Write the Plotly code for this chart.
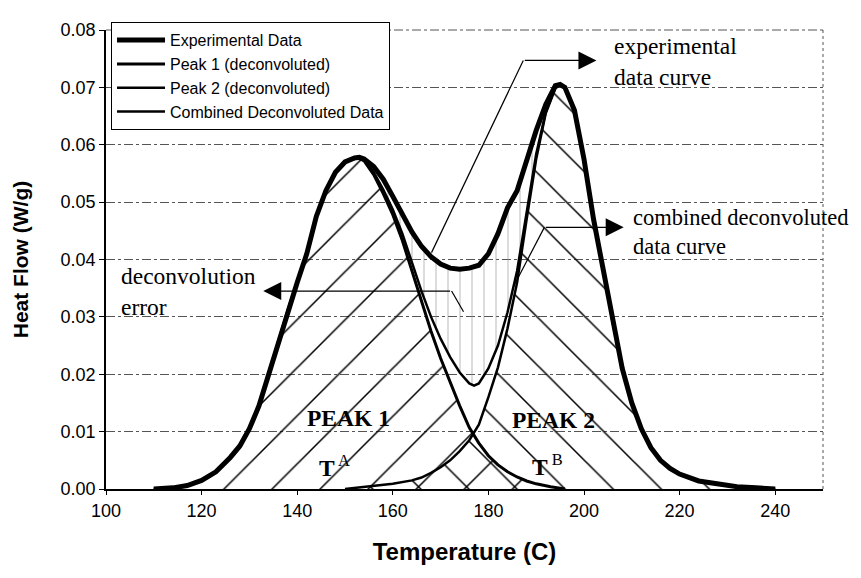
import plotly.graph_objects as go

# ---------------- data ----------------
temp_exp = [110, 114, 117, 120, 123, 126, 128, 130, 132, 134, 136, 138, 140, 142, 144, 146, 148, 150, 152, 153,
            154, 156, 158, 160, 162, 164, 166, 168, 170, 172, 174, 176, 178, 180, 182, 184, 186, 188, 190, 192,
            194, 195, 196, 198, 200, 202, 204, 206, 208, 210, 212, 214, 216, 218, 220, 224, 228, 232, 236, 240]
heat_exp = [0, 0.0002, 0.0006, 0.0015, 0.003, 0.0055, 0.0075, 0.0105, 0.0145, 0.02,
            0.0255, 0.031, 0.036, 0.041, 0.0475, 0.052, 0.0552, 0.057, 0.0577, 0.0578,
            0.0575, 0.0562, 0.054, 0.051, 0.0478, 0.0448, 0.0423, 0.0405, 0.0392, 0.0385,
            0.0383, 0.0385, 0.039, 0.041, 0.0445, 0.049, 0.052, 0.0575, 0.0625, 0.067,
            0.0703, 0.0705, 0.07, 0.066, 0.0575, 0.047, 0.0385, 0.029, 0.021, 0.015,
            0.0105, 0.0072, 0.005, 0.0036, 0.0026, 0.0014, 0.0008, 0.0004, 0.0002, 0]

temp_p1 = [110, 114, 117, 120, 123, 126, 128, 130, 132, 134, 136, 138, 140, 142, 144, 146, 148, 150, 152, 153,
           154, 156, 158, 160, 162, 164, 166, 168, 170, 172, 174, 176, 178, 180, 182, 184, 186, 188, 190, 193, 196]
heat_p1 = [0, 0.0002, 0.0006, 0.0015, 0.003, 0.0055, 0.0075, 0.0105, 0.0145, 0.02,
           0.0255, 0.031, 0.036, 0.041, 0.0475, 0.052, 0.0552, 0.057, 0.0576, 0.0576,
           0.0572, 0.0548, 0.0515, 0.0478, 0.0433, 0.038, 0.0325, 0.0275, 0.0228, 0.0185,
           0.0145, 0.0107, 0.008, 0.0058, 0.0042, 0.003, 0.0021, 0.0014, 0.0009, 0.0004, 0]

temp_p2 = [150, 155, 160, 164, 166, 168, 170, 172, 174, 176, 178, 180, 182, 184, 186, 188, 190, 192, 194, 195,
           196, 198, 200, 202, 204, 206, 208, 210, 212, 214, 216, 218, 220, 224, 228, 232, 236, 240]
heat_p2 = [0, 0.0004, 0.0009, 0.0015, 0.002, 0.0028, 0.0038, 0.005, 0.0066, 0.0085,
           0.0112, 0.016, 0.0212, 0.028, 0.036, 0.047, 0.0575, 0.0655, 0.0698, 0.0705,
           0.07, 0.066, 0.0575, 0.047, 0.0385, 0.029, 0.021, 0.015, 0.0105, 0.0072,
           0.005, 0.0036, 0.0026, 0.0014, 0.0008, 0.0004, 0.0002, 0]

temp_comb = [110, 114, 117, 120, 123, 126, 128, 130, 132, 134, 136, 138, 140, 142, 144, 146, 148, 150, 152, 154,
             156, 158, 160, 162, 164, 166, 168, 170, 172, 174, 176, 177, 178, 180, 182, 184, 186, 188, 190, 192,
             194, 195, 196, 198, 200, 202, 204, 206, 208, 210, 212, 214, 216, 218, 220, 224, 228, 232, 236, 240]
heat_comb = [0, 0.0002, 0.0006, 0.0015, 0.003, 0.0055, 0.0075, 0.0105, 0.0145, 0.02,
             0.0255, 0.031, 0.036, 0.041, 0.0475, 0.052, 0.0552, 0.057, 0.0577, 0.0574,
             0.0552, 0.0522, 0.0487, 0.0445, 0.0395, 0.0345, 0.03, 0.0262, 0.023, 0.0203,
             0.0184, 0.018, 0.0184, 0.021, 0.025, 0.0308, 0.038, 0.0484, 0.0584, 0.0657,
             0.07, 0.0705, 0.07, 0.066, 0.0575, 0.047, 0.0385, 0.029, 0.021, 0.015,
             0.0105, 0.0072, 0.005, 0.0036, 0.0026, 0.0014, 0.0008, 0.0004, 0.0002, 0]

x_ticks = [100, 120, 140, 160, 180, 200, 220, 240]
y_ticks = [0.00, 0.01, 0.02, 0.03, 0.04, 0.05, 0.06, 0.07, 0.08]
series_names = ["Experimental Data", "Peak 1 (deconvoluted)", "Peak 2 (deconvoluted)", "Combined Deconvoluted Data"]
error_window = (158, 192)

# ---------------- figure ----------------
SERIF = "Liberation Serif, Times New Roman, serif"
SANS = "Liberation Sans, Arial, sans-serif"
CLEAR = "rgba(0,0,0,0)"

fig = go.Figure()

# hatched area under peak 1
fig.add_trace(go.Scatter(x=temp_p1, y=heat_p1, mode="lines", line=dict(width=0, color=CLEAR),
                         fill="tozeroy", fillcolor=CLEAR,
                         fillpattern=dict(shape="/", fgcolor="black", fgopacity=1, bgcolor=CLEAR,
                                          size=34, solidity=0.045),
                         showlegend=False, hoverinfo="skip"))
# hatched area under peak 2
fig.add_trace(go.Scatter(x=temp_p2, y=heat_p2, mode="lines", line=dict(width=0, color=CLEAR),
                         fill="tozeroy", fillcolor=CLEAR,
                         fillpattern=dict(shape="\\", fgcolor="black", fgopacity=1, bgcolor=CLEAR,
                                          size=34, solidity=0.045),
                         showlegend=False, hoverinfo="skip"))

# deconvolution error region (between experimental and combined curves)
lo, hi = error_window
ex = [t for t in temp_exp if lo <= t <= hi]
ey = [h for t, h in zip(temp_exp, heat_exp) if lo <= t <= hi]
cx = [t for t in temp_comb if lo <= t <= hi][::-1]
cy = [h for t, h in zip(temp_comb, heat_comb) if lo <= t <= hi][::-1]
fig.add_trace(go.Scatter(x=ex + cx, y=ey + cy, mode="lines", line=dict(width=0, color=CLEAR),
                         fill="toself", fillcolor=CLEAR,
                         fillpattern=dict(shape="|", fgcolor="#8a8a8a", bgcolor=CLEAR, size=12, solidity=0.1),
                         showlegend=False, hoverinfo="skip"))

# curves
fig.add_trace(go.Scatter(x=temp_exp, y=heat_exp, mode="lines", name=series_names[0],
                         line=dict(color="black", width=5)))
fig.add_trace(go.Scatter(x=temp_p1, y=heat_p1, mode="lines", name=series_names[1],
                         line=dict(color="black", width=3)))
fig.add_trace(go.Scatter(x=temp_p2, y=heat_p2, mode="lines", name=series_names[2],
                         line=dict(color="black", width=2.5)))
fig.add_trace(go.Scatter(x=temp_comb, y=heat_comb, mode="lines", name=series_names[3],
                         line=dict(color="black", width=2.5)))

# leader lines + arrows
leaders = [
    # (curve point, bend, arrow tip)
    ((168.1, 0.0412), (187.3, 0.0747), (202.6, 0.0747)),
    ((185.2, 0.0352), (191.7, 0.0456), (208.3, 0.0456)),
    ((174.8, 0.0309), (172.3, 0.0345), (132.9, 0.0345)),
]
for p0, p1, p2 in leaders:
    fig.add_shape(type="line", x0=p0[0], y0=p0[1], x1=p1[0], y1=p1[1], xref="x", yref="y",
                  line=dict(color="black", width=1.2))
    fig.add_annotation(x=p2[0], y=p2[1], ax=p1[0], ay=p1[1], axref="x", ayref="y", xref="x", yref="y",
                       text="", showarrow=True, arrowhead=2, arrowsize=3, arrowwidth=1.2, arrowcolor="black")

labels = [
    (205.8, 0.0745, "experimental<br>data curve", "left", 23.5),
    (209.9, 0.0448, "combined deconvoluted<br>data curve", "left", 22.5),
    (102.7, 0.0345, "deconvolution<br>error", "left", 23.5),
    (150.7, 0.0123, "<b>PEAK 1</b>", "center", 23.5),
    (193.6, 0.0121, "<b>PEAK 2</b>", "center", 23.5),
    (147.7, 0.0040, "<b>T</b><sup> A</sup>", "center", 23.5),
    (192.4, 0.0042, "<b>T</b><sup> B</sup>", "center", 23.5),
]
for x, y, txt, anchor, fs in labels:
    fig.add_annotation(x=x, y=y, xref="x", yref="y", text=txt, showarrow=False, xanchor=anchor,
                       yanchor="middle", align="left", font=dict(family=SERIF, size=fs, color="black"))

# frame: dotted right edge, dash-dot top edge
fig.add_shape(type="line", xref="paper", yref="paper", x0=1, x1=1, y0=0, y1=1,
              line=dict(color="#555", width=1, dash="dot"))
fig.add_shape(type="line", xref="paper", yref="paper", x0=0, x1=1, y0=1, y1=1,
              line=dict(color="#555", width=1, dash="dashdot"))

# the page body adds an 8px offset, so the figure is 8px smaller and margins are shifted
fig.update_layout(
    width=853, height=570,
    margin=dict(l=97, r=38, t=13, b=89),
    plot_bgcolor="white", paper_bgcolor="white",
    font=dict(family=SANS, color="black"),
    showlegend=True,
    legend=dict(x=0.007, y=1.017, xanchor="left", yanchor="top", bgcolor="white",
                bordercolor="black", borderwidth=1, font=dict(family=SANS, size=16, color="black"),
                itemwidth=48, tracegroupgap=0),
    xaxis=dict(range=[100, 250], tickvals=x_ticks, ticks="outside", ticklen=4, tickcolor="black",
               showline=True, linecolor="black", linewidth=2, showgrid=False, zeroline=False,
               tickfont=dict(family=SANS, size=18, color="black"),
               title=dict(text="<b>Temperature (C)</b>", font=dict(family=SANS, size=24, color="black"),
                          standoff=24)),
    yaxis=dict(range=[0, 0.08], tickvals=y_ticks, tickformat=".2f", ticks="outside", ticklen=5,
               tickcolor="black", showline=True, linecolor="black", linewidth=1.5,
               showgrid=True, gridcolor="#555", griddash="dashdot", gridwidth=1, zeroline=False,
               tickfont=dict(family=SANS, size=18, color="black"),
               title=dict(text="<b>Heat Flow (W/g)</b>", font=dict(family=SANS, size=21, color="black"),
                          standoff=26)),
)

fig.write_html("out.html")
